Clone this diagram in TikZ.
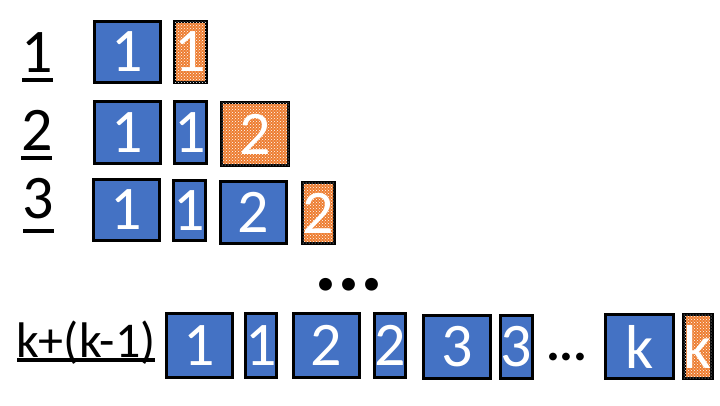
\documentclass[tikz,border=0pt]{standalone}
\usepackage{fontspec}
\setmainfont{Carlito}
\usetikzlibrary{patterns}
\definecolor{boxblue}{HTML}{4472C4}
\definecolor{boxorange}{HTML}{ED7D31}
\newcommand{\dotrow}[1]{\makebox[#1]{.}\makebox[#1]{.}\makebox[#1]{.}}
\begin{document}
\begin{tikzpicture}[x=1pt,y=-1pt,
  bluebox/.style={draw=black, line width=3.3pt, fill=boxblue, text=white, inner sep=0pt,
    font=\fontsize{62}{70}\selectfont, minimum height=61pt},
  orangebox/.style={bluebox, fill=boxorange, postaction={pattern=crosshatch dots, pattern color=white}},
  wide/.style={minimum width=66pt},
  narrow/.style={minimum width=28pt},
  lbl/.style={anchor=base, inner sep=0pt, font=\fontsize{62}{70}\selectfont},
  uline/.style={line width=3.3pt}
]
\useasboundingbox (0,0) rectangle (720,405);
% row 1
\node[lbl] (l1) at (37,72) {1};
\draw[uline] (22,80) -- (53,80);
\node[bluebox,wide] (a1) at (127.5,52) {1};
\node[orangebox,narrow] (a2) at (190.5,52) {1};
% row 2
\node[lbl] (l2) at (37,150) {2};
\draw[uline] (21,158) -- (52,158);
\node[bluebox,wide,minimum height=62pt] (b1) at (127.5,132.5) {1};
\node[bluebox,narrow,minimum height=62pt] (b2) at (190.5,132.5) {1};
\node[orangebox,wide,minimum width=67pt,minimum height=63pt] (b3) at (255,134) {2};
% row 3
\node[lbl] (l3) at (38,218) {3};
\draw[uline] (23,231) -- (54,231);
\node[bluebox,wide] (c1) at (126.5,210) {1};
\node[bluebox,narrow,minimum height=60pt] (c2) at (189.5,210.5) {1};
\node[bluebox,wide,minimum height=62pt] (c3) at (253.5,212.5) {2};
\node[orangebox,narrow] (c4) at (318.5,213) {2};
% middle dots
\node[anchor=base, inner sep=0pt, font=\fontsize{86}{90}\selectfont\bfseries] (md) at (349,290) {\dotrow{23pt}};
% row k
\node[anchor=base west, inner sep=0pt, font=\fontsize{50}{60}\selectfont] (lk) at (16,357) {k+(k-1)};
\draw[uline] (17,360) -- (155,360);
\node[bluebox,wide,minimum height=64pt] (d1) at (199.5,345.5) {1};
\node[bluebox,narrow,minimum width=29pt,minimum height=64pt] (d2) at (261,345.5) {1};
\node[bluebox,wide,minimum height=64pt] (d3) at (326.5,345.5) {2};
\node[bluebox,narrow,minimum width=31pt,minimum height=64pt] (d4) at (390,345.5) {2};
\node[bluebox,wide,minimum width=67pt,minimum height=63pt] (d5) at (457,347) {3};
\node[bluebox,narrow,minimum width=30pt,minimum height=63pt] (d6) at (516.5,347) {3};
\node[anchor=base, inner sep=0pt, font=\fontsize{52}{60}\selectfont\bfseries] (kd) at (566.5,360) {\dotrow{13.5pt}};
\node[bluebox,wide,minimum width=68pt,minimum height=64pt] (d7) at (639.5,346.5) {k};
\node[orangebox,narrow,minimum width=27pt,minimum height=64pt] (d8) at (698,346.5) {k};
\end{tikzpicture}
\end{document}
